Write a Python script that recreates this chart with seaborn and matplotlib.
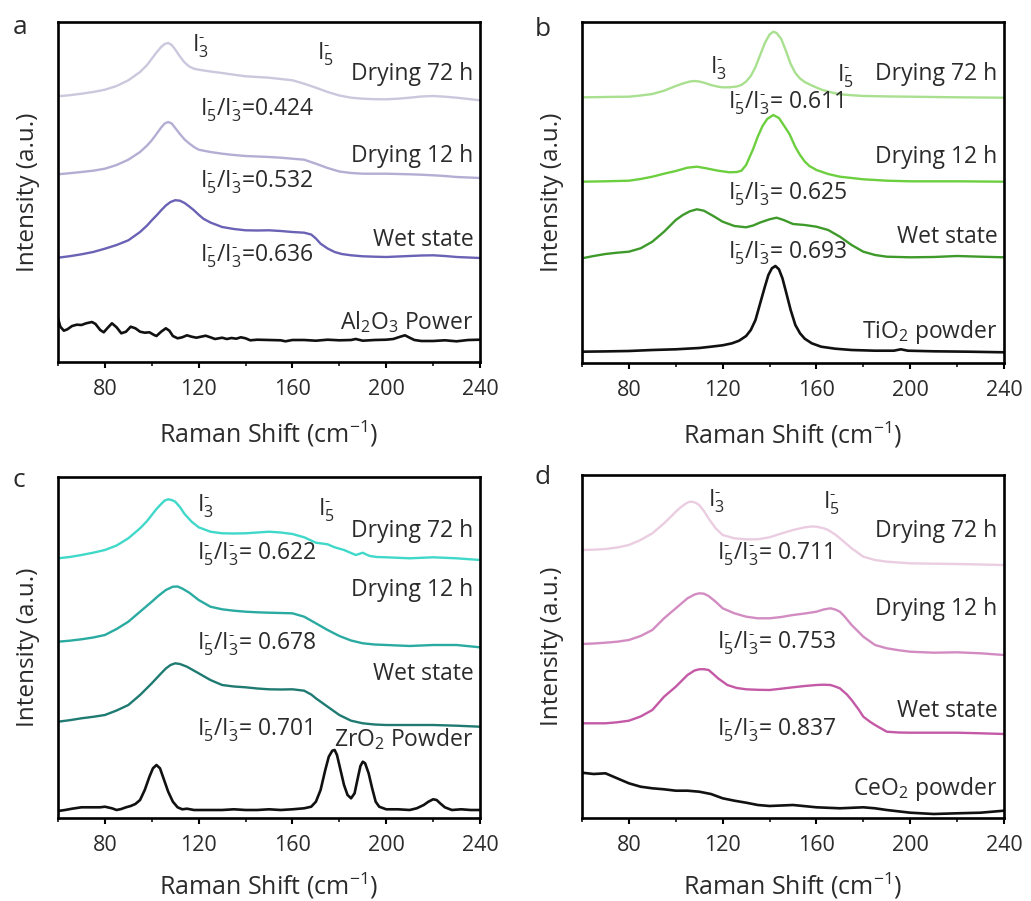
import matplotlib
matplotlib.use("Agg")
import matplotlib.pyplot as plt
from matplotlib.ticker import MultipleLocator
import seaborn as sns

# ---------------------------------------------------------------- data
# Raman spectra (stacked, intensity in a.u.), x = Raman shift in cm^-1

# (a) Al2O3
A_X_72 = [60, 65, 70, 75, 80, 85, 90, 95, 98, 100, 102, 104, 105.5, 107, 108.5, 110, 112, 114, 116,
          118, 120, 125, 130, 135, 140, 145, 150, 155, 160, 165, 170, 175, 180, 185, 190, 195, 200,
          205, 210, 215, 220, 225, 230, 235, 240]
A_Y_72 = [265.7, 266.8, 268.3, 270.0, 272.3, 276.0, 281.7, 290.0, 297.0, 303.3, 309.5, 315.0, 318.0,
          319.0, 317.0, 312.5, 305.5, 299.5, 295.5, 293.3, 292.3, 290.5, 289.0, 287.3, 285.7, 285.0,
          284.3, 283.0, 281.7, 278.3, 274.3, 270.0, 266.5, 264.3, 263.3, 262.8, 262.7, 263.3, 264.3,
          265.5, 266.0, 265.3, 264.3, 263.0, 261.7]
A_X_12 = [60, 65, 70, 75, 80, 85, 90, 95, 98, 100, 102, 104, 105.5, 107, 108.5, 110, 112, 114, 116,
          118, 120, 125, 130, 135, 140, 145, 150, 155, 160, 165, 170, 175, 180, 185, 190, 195, 200,
          205, 210, 215, 220, 225, 230, 235, 240]
A_Y_12 = [187.7, 188.8, 190.0, 191.3, 193.3, 197.0, 202.3, 210.0, 216.5, 221.7, 228.0, 234.5, 238.5,
          240.0, 238.5, 234.0, 228.0, 222.5, 218.5, 215.0, 212.3, 210.0, 208.3, 207.0, 206.0, 205.5,
          205.0, 204.3, 203.3, 202.3, 198.3, 194.0, 190.5, 189.0, 188.3, 188.3, 188.3, 188.0, 187.7,
          187.3, 186.7, 186.0, 185.0, 184.5, 184.0]
A_X_WET = [60, 65, 70, 75, 80, 85, 90, 95, 98, 100, 102, 104, 106, 108, 110, 112, 114, 116, 118, 120,
           122, 125, 130, 135, 140, 145, 150, 155, 160, 165, 168, 170, 172, 175, 178, 181, 185, 190,
           195, 200, 205, 210, 215, 220, 225, 230, 235, 240]
A_Y_WET = [104.3, 105.8, 107.7, 110.0, 113.3, 117.0, 121.7, 130.0, 136.5, 141.7, 146.5, 151.7, 156.5,
           160.0, 161.8, 161.3, 159.0, 155.5, 151.7, 147.3, 143.3, 139.5, 135.0, 133.0, 131.7, 131.5,
           131.7, 131.0, 130.0, 129.3, 127.5, 123.5, 118.3, 113.5, 110.0, 108.0, 106.7, 105.7, 105.3,
           105.0, 105.5, 106.0, 106.5, 106.7, 106.0, 105.0, 104.5, 104.0]
A_X_REF = [60, 61, 62.5, 64, 66, 68, 70, 72, 74.5, 76, 78, 79.5, 81, 83, 85, 87, 89, 91, 93, 95,
           97, 99, 101, 102, 104, 106, 107.5, 109, 111, 113, 115, 117, 119, 121, 123, 125, 127,
           130, 132, 134, 136, 138, 140, 142, 145, 150, 155, 157, 160, 165, 170, 175, 180, 185,
           187, 190, 195, 200, 203, 206, 208, 210, 212, 215, 220, 225, 230, 235, 240]
A_Y_REF = [43.7, 35.3, 31.3, 32.7, 36.0, 37.3, 37.0, 38.7, 40.0, 38.0, 32.0, 29.7, 33.7, 38.7, 34.7,
           28.7, 30.3, 35.3, 33.7, 30.3, 29.3, 29.7, 27.0, 26.0, 30.3, 33.7, 31.3, 26.0, 23.7, 24.7,
           26.7, 25.3, 24.3, 25.3, 26.3, 24.7, 23.0, 24.3, 23.0, 24.0, 23.3, 24.7, 23.7, 21.7, 22.3,
           22.0, 21.7, 20.7, 22.0, 22.0, 21.3, 22.3, 21.7, 22.0, 23.0, 21.3, 22.0, 22.3, 23.0, 25.3,
           26.7, 24.3, 22.0, 21.0, 21.0, 21.7, 20.7, 22.0, 22.3]

# (b) TiO2
B_X_72 = [60, 65, 70, 75, 80, 85, 90, 95, 100, 103, 106, 108, 110, 112, 115, 118, 120, 123, 126,
          128, 130, 132, 134, 136, 138, 140, 141.6, 143, 145, 147, 149, 151, 153, 155, 158, 162,
          166, 170, 175, 180, 190, 200, 210, 220, 230, 240]
B_Y_72 = [265.7, 265.8, 266.0, 266.2, 266.3, 267.5, 269.0, 272.3, 277.0, 279.5, 281.5, 282.0, 281.5,
          280.3, 278.0, 276.3, 275.7, 275.7, 276.5, 278.0, 281.5, 287.0, 296.0, 308.0, 320.0, 328.5,
          331.3, 330.0, 324.0, 312.0, 299.0, 290.0, 284.5, 281.0, 277.5, 273.5, 270.8, 268.7, 267.8,
          267.0, 266.6, 266.3, 266.0, 265.7, 265.5, 265.3]
B_X_12 = [60, 70, 80, 85, 90, 95, 100, 105, 109, 113, 118, 123, 126, 128, 130, 131.5, 133, 135, 137,
          139, 141.6, 144, 146, 148.5, 151, 153, 155, 157, 160, 165, 170, 175, 180, 190, 200, 220,
          240]
B_Y_12 = [181.3, 181.7, 182.3, 184.0, 186.3, 189.3, 192.0, 195.3, 196.3, 194.7, 192.3, 190.7, 191.0,
          192.3, 198.0, 206.0, 214.0, 226.5, 237.0, 244.0, 248.0, 245.0, 238.0, 229.0, 216.0, 208.0,
          201.5, 197.0, 193.0, 189.0, 186.3, 185.0, 183.7, 182.3, 181.7, 181.7, 181.3]
B_X_WET = [60, 65, 70, 75, 80, 85, 90, 95, 100, 103, 106, 109, 112, 116, 120, 125, 130, 133, 136,
           140, 143, 146, 150, 155, 160, 165, 170, 175, 180, 185, 190, 200, 210, 220, 230, 240]
B_Y_WET = [104.7, 107.0, 109.0, 110.3, 111.3, 114.7, 121.3, 131.3, 143.0, 148.0, 151.7, 153.7, 152.3,
           147.0, 141.3, 137.0, 135.7, 137.5, 140.5, 143.7, 145.3, 143.0, 139.0, 138.0, 136.3, 133.0,
           126.3, 118.0, 111.3, 108.0, 106.3, 105.7, 106.0, 107.0, 106.3, 105.7]
B_X_REF = [60, 70, 80, 90, 100, 110, 115, 120, 124, 127, 130, 132, 134, 136, 138, 139.5, 141, 142.5,
           144, 145.5, 147, 149, 151, 153, 155, 158, 162, 168, 175, 185, 193, 196, 199, 210, 225,
           240]
B_Y_REF = [11.3, 11.6, 12.0, 13.0, 13.7, 15.0, 16.3, 17.7, 19.7, 22.3, 27.0, 33.0, 43.0, 59.7, 76.3,
           88.0, 94.7, 97.0, 93.7, 84.7, 71.3, 53.0, 38.0, 29.7, 24.3, 19.7, 16.3, 14.3, 13.0, 12.3,
           12.3, 13.7, 12.3, 11.7, 11.3, 10.7]

# (c) ZrO2
C_X_72 = [60, 65, 70, 75, 80, 85, 90, 95, 98, 100, 102, 104, 105.5, 107, 108.5, 110, 112, 114, 117,
          120, 125, 130, 135, 140, 145, 150, 155, 160, 165, 170, 175, 178, 182, 185, 187, 189, 190,
          191.5, 193, 196, 200, 210, 220, 230, 240]
C_Y_72 = [259.7, 261.0, 263.0, 265.3, 268.0, 272.5, 279.7, 289.7, 297.0, 303.0, 309.0, 314.0, 317.5,
          318.7, 318.0, 316.3, 311.0, 304.0, 296.3, 290.7, 286.3, 284.7, 284.5, 284.7, 285.5, 286.3,
          285.5, 284.0, 280.7, 275.3, 273.7, 270.7, 268.0, 265.0, 263.0, 264.5, 265.3, 263.5, 262.0,
          261.0, 260.7, 259.7, 260.7, 259.7, 258.0]
C_X_12 = [60, 65, 70, 75, 80, 85, 90, 95, 100, 103, 106, 109, 111, 113, 116, 120, 125, 130, 135, 140,
          145, 150, 155, 160, 165, 170, 175, 180, 185, 190, 195, 200, 210, 220, 230, 240]
C_Y_12 = [176.3, 177.3, 178.7, 180.5, 183.0, 189.0, 196.3, 206.3, 216.3, 222.5, 228.0, 231.3, 231.5,
          229.5, 225.3, 218.0, 211.3, 208.7, 207.3, 206.3, 205.7, 205.3, 205.0, 204.7, 201.3, 194.7,
          188.0, 182.0, 177.5, 174.7, 173.5, 173.0, 172.0, 173.0, 173.0, 170.7]
C_X_WET = [60, 65, 70, 75, 80, 85, 90, 95, 100, 104, 106, 108, 110, 112, 115, 120, 125, 130, 135, 140,
           145, 150, 155, 160, 165, 168, 170, 175, 180, 185, 190, 195, 200, 210, 220, 230, 240]
C_Y_WET = [96.3, 97.8, 99.7, 101.2, 103.0, 107.5, 113.0, 123.0, 134.7, 144.7, 149.5, 153.0, 154.7,
           154.0, 151.3, 144.7, 138.0, 133.0, 131.5, 130.7, 129.5, 128.7, 128.5, 128.7, 127.3, 123.5,
           119.7, 111.3, 103.0, 97.3, 94.7, 93.5, 93.0, 93.0, 93.0, 92.3, 91.3]
C_X_REF = [60, 63, 66, 70, 75, 78, 80, 83, 85, 87, 89, 91, 93, 95, 97, 99, 100.5, 102, 103.5, 105,
           107, 109, 111, 113, 115, 118, 120, 125, 130, 135, 140, 145, 150, 155, 160, 165, 168, 170,
           172, 174, 175.5, 177, 178, 179, 180.5, 182, 183.5, 185, 186.5, 188, 189, 190, 191, 192.5,
           194, 195.5, 197, 200, 205, 210, 213, 216, 218, 220, 221.5, 223, 225, 228, 232, 236, 240]
C_Y_REF = [7.0, 8.0, 9.3, 10.7, 10.7, 10.7, 11.3, 9.7, 8.0, 9.0, 10.7, 12.0, 14.0, 18.0, 28.0, 41.3,
           49.7, 53.0, 49.7, 39.7, 26.3, 16.3, 10.7, 8.7, 9.3, 8.0, 8.0, 8.0, 8.0, 8.7, 8.0, 8.0, 8.7,
           8.0, 8.7, 9.7, 11.3, 16.3, 28.0, 48.0, 61.3, 67.3, 68.0, 63.0, 48.0, 33.0, 23.0, 19.7,
           24.7, 41.3, 52.0, 56.3, 54.7, 44.7, 29.7, 16.3, 11.3, 8.7, 8.7, 8.0, 9.7, 13.0, 16.3,
           18.7, 18.0, 14.7, 10.7, 8.0, 8.7, 8.0, 8.0]

# (d) CeO2
D_X_72 = [60, 65, 70, 75, 80, 85, 90, 95, 98, 100, 102, 104, 105.5, 107, 108.5, 110, 112, 114, 117,
          120, 125, 130, 135, 140, 145, 150, 155, 158, 160, 163, 165, 168, 170, 175, 180, 185, 190,
          200, 210, 220, 230, 240]
D_Y_72 = [268.0, 268.3, 269.0, 270.5, 273.0, 278.0, 284.7, 294.7, 301.5, 306.3, 310.5, 314.0, 316.0,
          316.3, 315.2, 313.0, 307.0, 299.5, 289.7, 283.0, 279.7, 278.7, 278.7, 280.7, 284.5, 288.0,
          290.7, 291.5, 291.3, 289.8, 288.0, 283.5, 279.7, 269.7, 261.3, 258.0, 256.3, 254.7, 254.3,
          254.0, 253.5, 253.0]
D_X_12 = [60, 65, 70, 75, 80, 85, 90, 95, 100, 105, 108, 110, 112, 114, 117, 120, 125, 130, 135, 140,
          145, 150, 155, 160, 163, 166, 168, 170, 172, 175, 178, 180, 185, 190, 195, 200, 210, 220,
          230, 240]
D_Y_12 = [174.0, 174.5, 175.3, 176.3, 178.0, 182.0, 188.0, 199.7, 209.7, 219.7, 223.5, 224.7, 224.3,
          222.0, 216.3, 209.7, 204.7, 201.3, 199.7, 199.7, 201.0, 203.0, 204.5, 206.3, 208.5, 209.7,
          208.5, 206.3, 201.5, 193.0, 186.0, 181.3, 173.0, 169.7, 167.8, 166.3, 165.3, 165.7, 164.7,
          163.0]
D_X_WET = [60, 65, 70, 75, 80, 85, 90, 95, 100, 105, 108, 110, 112, 114, 116, 118, 122, 126, 130, 135,
           140, 145, 150, 155, 160, 163, 166, 168, 170, 173, 175, 178, 180, 183, 185, 190, 195, 200,
           210, 220, 230, 240]
D_Y_WET = [94.7, 94.7, 94.7, 95.7, 97.3, 101.5, 108.0, 121.3, 131.3, 143.0, 147.5, 148.7, 148.8, 148.0,
           144.0, 139.7, 133.0, 130.0, 128.7, 128.2, 128.0, 129.3, 130.7, 132.0, 133.0, 133.3, 133.0,
           131.5, 129.7, 123.5, 118.0, 108.5, 101.3, 96.0, 93.0, 86.3, 85.5, 85.3, 85.3, 85.3, 84.7,
           84.0]
D_X_REF = [60, 65, 70, 75, 80, 85, 90, 95, 100, 105, 110, 115, 120, 125, 130, 135, 140, 150, 160,
           170, 180, 185, 190, 200, 210, 220, 230, 240]
D_Y_REF = [45.3, 44.0, 44.7, 39.7, 34.7, 31.3, 29.7, 28.7, 27.3, 27.3, 26.3, 24.0, 19.7, 17.3, 15.3,
           13.0, 12.0, 13.0, 10.7, 9.7, 10.7, 9.7, 8.0, 5.3, 4.0, 4.7, 5.3, 7.3]

# labels
STATE_LABELS = ["Drying 72 h", "Drying 12 h", "Wet state"]
REF_LABELS = ["Al$_2$O$_3$ Power", "TiO$_2$ powder", "ZrO$_2$ Powder", "CeO$_2$ powder"]
RATIOS = [["0.424", "0.532", "0.636"],
          ["0.611", "0.625", "0.693"],
          ["0.622", "0.678", "0.701"],
          ["0.711", "0.753", "0.837"]]
RATIO_SEP = ["=", "= ", "= ", "= "]
PANEL_TAGS = ["a", "b", "c", "d"]
X_TICKS = [80, 120, 160, 200, 240]

# ---------------------------------------------------------------- style
sns.set_style("ticks")
plt.rcParams["font.family"] = ["Open Sans", "DejaVu Sans"]
plt.rcParams["mathtext.fontset"] = "custom"
plt.rcParams["mathtext.rm"] = "Open Sans"
plt.rcParams["mathtext.it"] = "Open Sans"
plt.rcParams["mathtext.bf"] = "Open Sans"
plt.rcParams["mathtext.default"] = "regular"

TXT = "#2b2b2b"
HY = "\u2010"  # short hyphen used as the anion charge sign
I3 = "I$_3^{" + HY + "}$"
I5 = "I$_5^{" + HY + "}$"

fig = plt.figure(figsize=(10.31, 9.01), dpi=100)

rects = [
    [58 / 1031, 1 - 362 / 901, 422 / 1031, 340 / 901],
    [582 / 1031, 1 - 363 / 901, 422 / 1031, 341 / 901],
    [58 / 1031, 1 - 818 / 901, 422 / 1031, 341 / 901],
    [582 / 1031, 1 - 818 / 901, 422 / 1031, 343 / 901],
]
ylims = [340, 341, 341, 343]
xlabel_pads = [13, 13, 10, 10]

panels = [
    [(A_X_72, A_Y_72), (A_X_12, A_Y_12), (A_X_WET, A_Y_WET), (A_X_REF, A_Y_REF)],
    [(B_X_72, B_Y_72), (B_X_12, B_Y_12), (B_X_WET, B_Y_WET), (B_X_REF, B_Y_REF)],
    [(C_X_72, C_Y_72), (C_X_12, C_Y_12), (C_X_WET, C_Y_WET), (C_X_REF, C_Y_REF)],
    [(D_X_72, D_Y_72), (D_X_12, D_Y_12), (D_X_WET, D_Y_WET), (D_X_REF, D_Y_REF)],
]
palettes = [
    ["#cbc8de", "#b3aed3", "#6a62b4", "#111111"],
    ["#a9e08f", "#6ccf3f", "#3e9a2b", "#111111"],
    ["#40d8c9", "#2aaba1", "#1f7a71", "#111111"],
    ["#ebcde1", "#d28cc2", "#c459a6", "#111111"],
]

# text anchors per panel: (x, y) in data units
ion_pos = [
    [(117.2, 310), (170.5, 303)],
    [(114.6, 289.7), (168.7, 281.3)],
    [(119.2, 306.3), (171.0, 303)],
    [(113.9, 311.3), (163.0, 309.7)],
]
state_y = [[282, 200, 116, 33],
           [283, 199.7, 119.7, 24.7],
           [281.3, 222, 138, 72],
           [281.3, 203, 101.3, 23]]
ratio_x = [120.6, 122.4, 119.2, 117.5]
ratio_y = [[247, 175, 101],
           [254.7, 163, 104.7],
           [258, 168.7, 82],
           [258, 169.7, 83]]
tag_pos = [(20, 28), (543, 29), (19, 480), (543, 478)]

for i in range(4):
    ax = fig.add_axes(rects[i])
    for (xs, ys), col in zip(panels[i], palettes[i]):
        lw = 1.9 if col == "#111111" else 1.7
        sns.lineplot(x=xs, y=ys, ax=ax, color=col, linewidth=lw, estimator=None)
    ax.set_xlim(60, 240)
    ax.set_ylim(0, ylims[i])
    ax.set_xticks(X_TICKS)
    ax.xaxis.set_minor_locator(MultipleLocator(20))
    ax.set_yticks([])
    ax.tick_params(axis="x", which="major", direction="out", length=4.5, width=1.5,
                   labelsize=15.5, pad=8, colors="black", labelcolor=TXT)
    ax.tick_params(axis="x", which="minor", direction="out", length=3, width=1.3)
    for s in ax.spines.values():
        s.set_linewidth(1.9)
        s.set_color("black")
    ax.set_xlabel("Raman Shift (cm$^{-1}$)", fontsize=18, color=TXT, labelpad=xlabel_pads[i])
    ax.set_ylabel("Intensity (a.u.)", fontsize=17.5, color=TXT, labelpad=13)

    # ion assignments
    (x3, y3), (x5, y5) = ion_pos[i]
    ax.text(x3, y3, I3, fontsize=16.5, color=TXT, va="baseline", ha="left")
    ax.text(x5, y5, I5, fontsize=16.5, color=TXT, va="baseline", ha="left")

    # state labels
    labels = STATE_LABELS + [REF_LABELS[i]]
    for lab, yy in zip(labels, state_y[i]):
        ax.text(237.3, yy, lab, fontsize=16.5, color=TXT, ha="right", va="baseline")

    # intensity ratios
    for r, yy in zip(RATIOS[i], ratio_y[i]):
        ax.text(ratio_x[i], yy, I5 + "/" + I3 + RATIO_SEP[i] + r, fontsize=16.5,
                color=TXT, ha="left", va="baseline")

    fig.text(tag_pos[i][0] / 1031, 1 - tag_pos[i][1] / 901, PANEL_TAGS[i], fontsize=19,
             color=TXT, ha="center", va="center")

fig.savefig("out.png", dpi=100, facecolor="white")
